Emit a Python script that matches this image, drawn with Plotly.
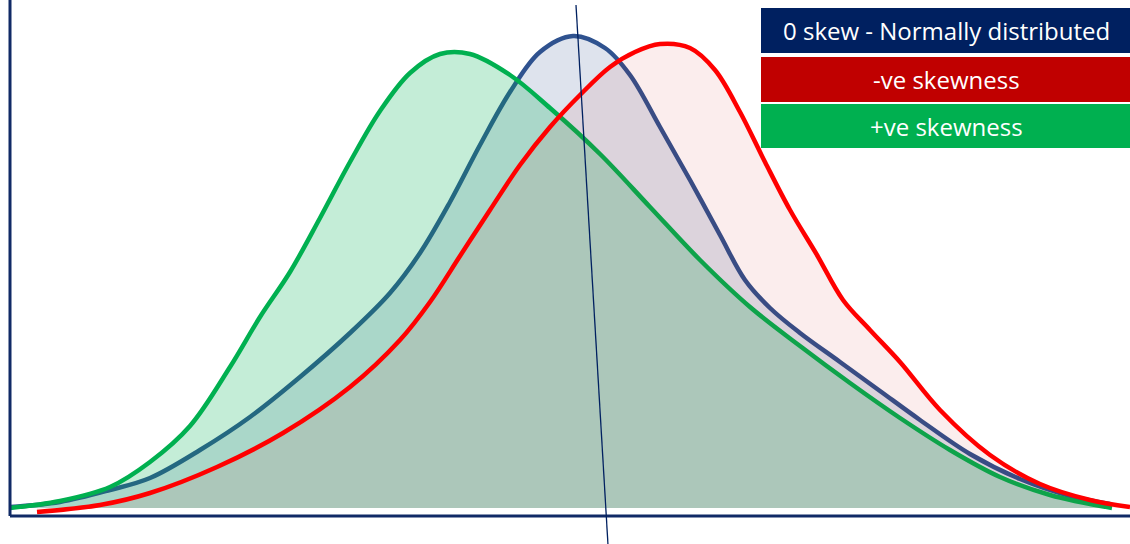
import plotly.graph_objects as go

# Curve samples: x position and height above the baseline
normal_x = [10, 60, 110, 150, 200, 250, 300, 350, 390, 420, 450, 480, 510, 540, 573, 605, 630, 660, 690, 720, 745, 770, 800, 840, 880, 920, 970, 1020, 1070, 1110]
normal_y = [1, 6, 18, 30, 58, 91, 131, 175, 215, 255, 306, 363, 416, 456, 472, 460, 433, 381, 328, 273, 228, 200, 175, 146, 117, 88, 54, 29, 12, 4]

neg_x = [37, 100, 150, 217, 283, 350, 400, 430, 460, 490, 520, 550, 580, 610, 635, 660, 690, 715, 740, 765, 790, 817, 843, 870, 900, 940, 990, 1040, 1090, 1130]
neg_y = [-4, 3, 15, 41, 75, 121, 168, 206, 252, 298, 343, 381, 413, 441, 456, 464, 460, 438, 396, 346, 298, 253, 208, 178, 146, 98, 53, 24, 8, 1]

pos_x = [10, 60, 110, 150, 190, 230, 260, 290, 320, 350, 380, 410, 440, 470, 510, 550, 600, 650, 700, 750, 800, 850, 900, 950, 1000, 1050, 1112]
pos_y = [0, 7, 21, 46, 82, 141, 191, 236, 290, 346, 397, 435, 454, 454, 433, 400, 354, 301, 248, 201, 162, 125, 90, 58, 31, 13, 0]

legend_labels = ["0 skew - Normally distributed", "-ve skewness", "+ve skewness"]
legend_colors = ["#002060", "#c00000", "#00b050"]

fig = go.Figure()

fig.add_trace(go.Scatter(x=normal_x, y=normal_y, mode="lines",
                         line=dict(color="#2f528f", width=4.5, shape="spline", smoothing=1.0),
                         fill="tozeroy", fillcolor="rgba(47,82,143,0.16)", hoverinfo="skip"))
fig.add_trace(go.Scatter(x=pos_x, y=pos_y, mode="lines",
                         line=dict(color="#00b050", width=4.5, shape="spline", smoothing=1.0),
                         fill="tozeroy", fillcolor="rgba(0,176,80,0.23)", hoverinfo="skip"))
fig.add_trace(go.Scatter(x=neg_x, y=neg_y, mode="lines",
                         line=dict(color="#ff0000", width=4.5, shape="spline", smoothing=1.0),
                         fill="tozeroy", fillcolor="rgba(192,0,0,0.07)", hoverinfo="skip"))

axis_color = "#102a66"
shapes = [
    dict(type="line", xref="x", yref="y", x0=10, x1=10, y0=-8, y1=510, line=dict(color=axis_color, width=3)),
    dict(type="line", xref="x", yref="y", x0=10, x1=1132, y0=-8, y1=-8, line=dict(color=axis_color, width=3)),
    dict(type="line", xref="x", yref="y", x0=576, x1=608, y0=503, y1=-37, line=dict(color="#002060", width=1.3)),
]

box_tops = [500, 451, 404]
box_bottoms = [455, 406, 360]
annotations = []
for lab, col, t, b in zip(legend_labels, legend_colors, box_tops, box_bottoms):
    shapes.append(dict(type="rect", xref="x", yref="y", x0=761, x1=1131, y0=b, y1=t,
                       fillcolor=col, line=dict(width=0), layer="above"))
    annotations.append(dict(x=946, y=(t + b) / 2, xref="x", yref="y", text=lab, showarrow=False,
                            font=dict(family="Open Sans", size=24, color="white"),
                            xanchor="center", yanchor="middle"))

fig.update_layout(
    width=1130, height=544,
    margin=dict(l=0, r=0, t=0, b=0),
    paper_bgcolor="white", plot_bgcolor="white",
    showlegend=False,
    xaxis=dict(range=[0, 1130], visible=False, fixedrange=True),
    yaxis=dict(range=[-36, 508], visible=False, fixedrange=True),
    shapes=shapes, annotations=annotations,
)

fig.write_html("out.html", config={"displayModeBar": False},
               post_script="document.body.style.margin='0';document.body.style.overflow='hidden';")
